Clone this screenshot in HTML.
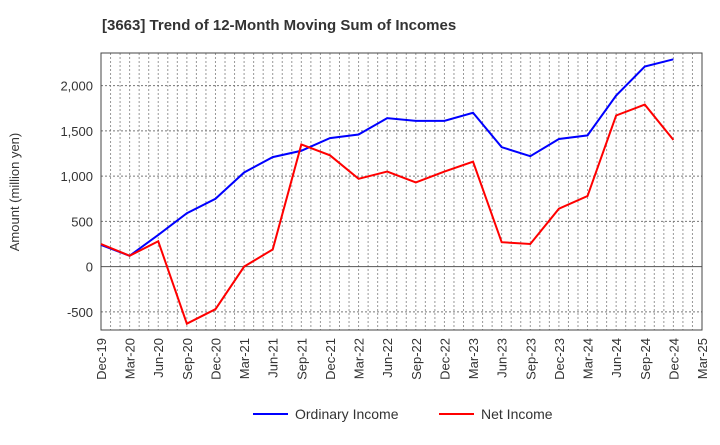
<!DOCTYPE html>
<html><head><meta charset="utf-8"><style>
body{margin:0;background:#fff;font-family:"Liberation Sans",sans-serif;}
</style></head><body>
<svg width="720" height="440" xmlns="http://www.w3.org/2000/svg">
<text x="102" y="30" font-size="15" font-weight="bold" fill="#333">[3663]  Trend of 12-Month Moving Sum of Incomes</text>
<g id="grid"></g><g id="axes"></g><g id="series"></g>
<text transform="translate(19,192) rotate(-90)" text-anchor="middle" font-size="13" fill="#333">Amount (million yen)</text>
<g>
<line x1="253" y1="414" x2="288" y2="414" stroke="#0000ff" stroke-width="2"/>
<text x="295" y="419" font-size="14" fill="#333">Ordinary Income</text>
<line x1="439" y1="414" x2="474" y2="414" stroke="#ff0000" stroke-width="2"/>
<text x="481" y="419" font-size="14" fill="#333">Net Income</text>
</g>
</svg>
<script>
const categories=["Dec-19","Mar-20","Jun-20","Sep-20","Dec-20","Mar-21","Jun-21","Sep-21","Dec-21","Mar-22","Jun-22","Sep-22","Dec-22","Mar-23","Jun-23","Sep-23","Dec-23","Mar-24","Jun-24","Sep-24","Dec-24","Mar-25"];
const ordinaryIncome=[240,120,350,590,750,1040,1210,1280,1420,1460,1640,1610,1610,1700,1320,1220,1410,1450,1890,2210,2290];
const netIncome=[250,120,280,-630,-470,0,190,1350,1230,970,1050,930,1050,1160,270,250,640,780,1670,1790,1400];
const yTicks=[-500,0,500,1000,1500,2000];
const yTickLabels=["-500","0","500","1,000","1,500","2,000"];
const L=101,R=702,T=53,B=330,yMin=-700,yMax=2360;
const ns="http://www.w3.org/2000/svg";
const X=i=>L+i*(R-L)/(categories.length-1);
const Y=v=>B-(v-yMin)/(yMax-yMin)*(B-T);
function mk(tag,attrs,parent){const e=document.createElementNS(ns,tag);for(const k in attrs)e.setAttribute(k,attrs[k]);parent.appendChild(e);return e;}
const grid=document.getElementById('grid'),axes=document.getElementById('axes'),ser=document.getElementById('series');
for(let m=1;m<(categories.length-1)*3;m++){const x=L+m*(R-L)/((categories.length-1)*3);
const g=mk('line',{x1:x,x2:x,y1:T,y2:B,stroke:'#999','stroke-dasharray':'2,2','stroke-width':1},grid);

}
yTicks.forEach((v,i)=>{const y=Y(v);
const g=mk('line',{x1:L,x2:R,y1:y,y2:y,stroke:v===0?'#555':'#777','stroke-dasharray':v===0?'':'2,2','stroke-width':1},grid);


const t=mk('text',{x:L-8,y:y+5,'text-anchor':'end','font-size':13,fill:'#333'},axes);t.textContent=yTickLabels[i];

});
const box=mk('rect',{x:L,y:T,width:R-L,height:B-T,fill:'none',stroke:'#444','stroke-width':1},axes);


categories.forEach((c,i)=>{const x=X(i);
const t=mk('text',{transform:`translate(${x+5},${B+8}) rotate(-90)`,'text-anchor':'end','font-size':13,fill:'#333'},axes);t.textContent=c;

});
function line(data,color,name){const p=mk('polyline',{points:data.map((v,i)=>X(i)+','+Y(v)).join(' '),fill:'none',stroke:color,'stroke-width':2},ser);

}
line(ordinaryIncome,'#0000ff','ordinary-income-line');
line(netIncome,'#ff0000','net-income-line');
</script>
</body></html>
